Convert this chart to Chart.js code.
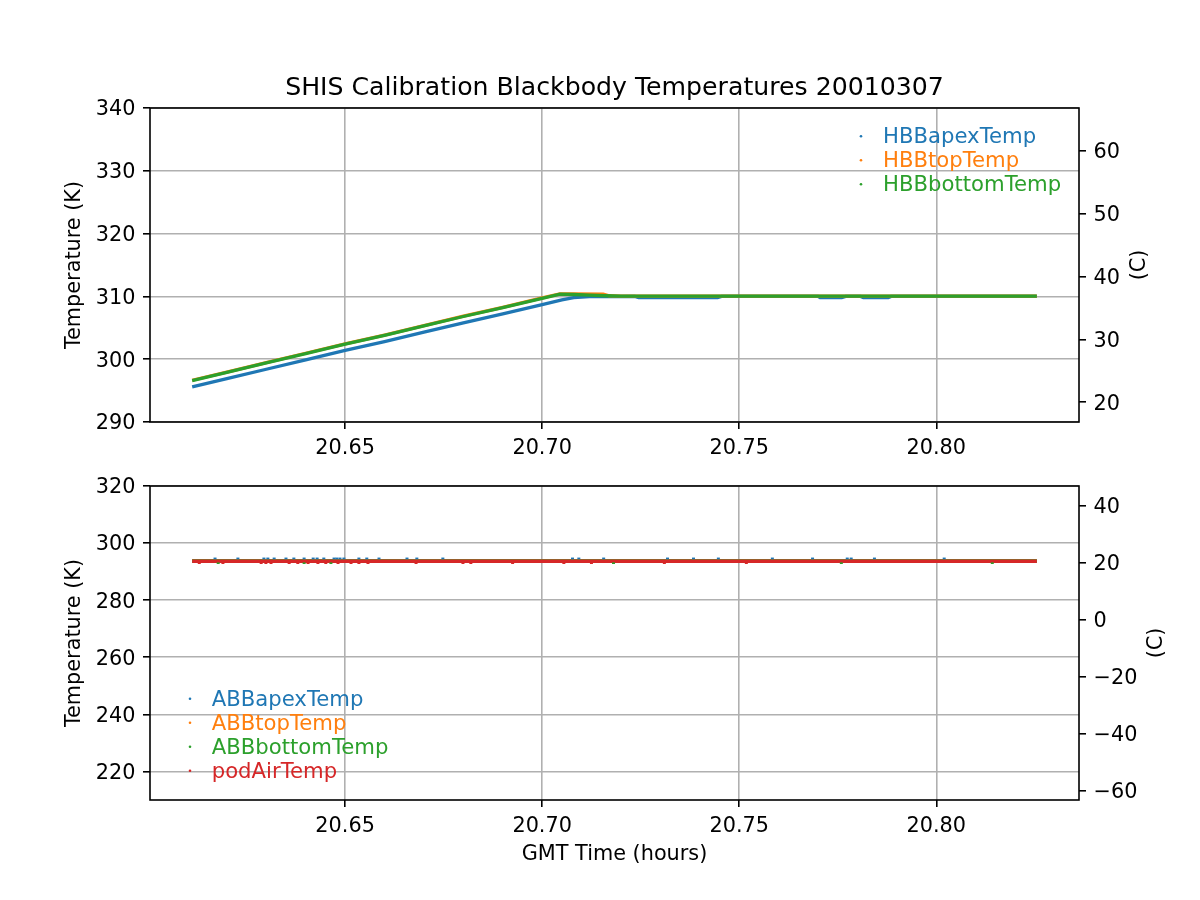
<!DOCTYPE html>
<html><head><meta charset="utf-8">
<script src="https://cdn.jsdelivr.net/npm/chart.js@4"></script>
<style>
html,body{margin:0;padding:0;background:#fff;}
#wrap{position:relative;width:1200px;height:900px;background:#fff;}
canvas{position:absolute;left:0;top:0;}
</style></head><body>
<div id="wrap"><canvas id="c1" width="1200" height="900"></canvas><canvas id="c2" width="1200" height="900"></canvas></div>
<script>
// ---------------- data ----------------
const chartTitle = 'SHIS Calibration Blackbody Temperatures 20010307';
const xTicks = [20.65, 20.70, 20.75, 20.80];
const topKTicks = [290, 300, 310, 320, 330, 340];
const topCTicks = [20, 30, 40, 50, 60];
const botKTicks = [220, 240, 260, 280, 300, 320];
const botCTicks = [-60, -40, -20, 0, 20, 40];

// top panel: hot blackbody
const hbbApexTime = [20.6112, 20.62, 20.63, 20.64, 20.65, 20.66, 20.67, 20.68, 20.69, 20.70, 20.705, 20.708, 20.712, 20.7235, 20.7245, 20.7445, 20.7455, 20.770, 20.7705, 20.776, 20.777, 20.7808, 20.7815, 20.7878, 20.7885, 20.8255];
const hbbApexTemp = [295.6, 296.9, 298.4, 299.9, 301.4, 302.8, 304.3, 305.8, 307.2, 308.7, 309.45, 309.8, 309.95, 310.0, 309.8, 309.8, 310.0, 310.0, 309.8, 309.8, 310.0, 310.0, 309.8, 309.8, 310.0, 310.0];
const hbbTopTime = [20.6112, 20.62, 20.63, 20.64, 20.65, 20.66, 20.67, 20.68, 20.69, 20.70, 20.7045, 20.708, 20.7155, 20.717, 20.72, 20.76, 20.80, 20.8255];
const hbbTopTemp = [296.65, 297.95, 299.45, 300.95, 302.45, 303.85, 305.35, 306.85, 308.25, 309.75, 310.4, 310.4, 310.35, 310.1, 310.05, 310.05, 310.05, 310.05];
const hbbBottomTime = [20.6112, 20.62, 20.63, 20.64, 20.65, 20.66, 20.67, 20.68, 20.69, 20.70, 20.7045, 20.708, 20.712, 20.716, 20.72, 20.74, 20.76, 20.78, 20.80, 20.8255];
const hbbBottomTemp = [296.6, 297.9, 299.4, 300.9, 302.4, 303.8, 305.3, 306.8, 308.2, 309.7, 310.35, 310.3, 310.2, 310.1, 310.05, 310.05, 310.05, 310.05, 310.05, 310.05];

// bottom panel: ambient blackbody + pod air
const abbTime = [20.6112, 20.65, 20.70, 20.75, 20.80, 20.8255];
const abbApexTemp = [293.7, 293.7, 293.7, 293.7, 293.7, 293.7];
const abbTopTemp = [293.75, 293.75, 293.75, 293.75, 293.75, 293.75];
const abbBottomTemp = [293.7, 293.7, 293.7, 293.7, 293.7, 293.7];
const podAirTemp = [293.65, 293.65, 293.65, 293.65, 293.65, 293.65];
const abbApexSpikeTime = [20.6170, 20.6228, 20.6294, 20.6304, 20.6320, 20.6350, 20.6370, 20.6396, 20.6419, 20.6429, 20.6446, 20.6472, 20.6479, 20.6487, 20.6497, 20.6535, 20.6555, 20.6586, 20.6657, 20.6682, 20.6748, 20.7077, 20.7093, 20.7156, 20.7318, 20.7384, 20.7447, 20.7584, 20.7686, 20.7774, 20.7784, 20.7843, 20.8020];
const abbApexSpikeTemp = abbApexSpikeTime.map(() => 294.65);
const podAirDipTime = [20.6130, 20.6190, 20.6287, 20.6299, 20.6312, 20.6358, 20.6380, 20.6406, 20.6431, 20.6451, 20.6482, 20.6515, 20.6535, 20.6558, 20.6680, 20.6799, 20.6819, 20.6925, 20.7055, 20.7125, 20.7310, 20.7518];
const podAirDipTemp = podAirDipTime.map(() => 292.95);
const abbBottomDipTime = [20.6178, 20.6396, 20.6464, 20.7181, 20.7759, 20.8142];
const abbBottomDipTemp = abbBottomDipTime.map(() => 292.95);

// ---------------- styling ----------------
const C0 = '#1f77b4', C1 = '#ff7f0e', C2 = '#2ca02c', C3 = '#d62728';
const FONT = 'DejaVu Sans';
const FS = 20.8;
const LEG_FS = 21.2;
const TITLE_FS = 25.2;
const gridColor = '#b0b0b0';
const xMin = 20.6005, xMax = 20.8362;

Chart.defaults.font.family = FONT;
Chart.defaults.font.size = FS;
Chart.defaults.color = '#000';

function pts(t, v) { return v.map((y, i) => ({x: t[i], y})); }
function fmtC(v) { return v < 0 ? '\u2212' + Math.abs(v) : String(v); }

function lineDs(label, t, v, color, order, w) {
  return {label, data: pts(t, v), borderColor: color, backgroundColor: color, borderWidth: w,
    pointRadius: 0, fill: false, tension: 0, order};
}
function dotDs(label, t, v, color, order) {
  return {label, data: pts(t, v), borderColor: color, backgroundColor: color, showLine: false,
    pointRadius: 1.5, pointStyle: 'line', borderWidth: 1.6, order, inLegend: false};
}

const mplDecor = {
  id: 'mplDecor',
  afterDraw(chart, args, o) {
    const ctx = chart.ctx, a = chart.chartArea;
    ctx.save();
    ctx.strokeStyle = '#000'; ctx.lineWidth = 1.6;
    ctx.strokeRect(a.left, a.top, a.right - a.left, a.bottom - a.top);
    ctx.fillStyle = '#000';
    if (o.title) {
      ctx.font = TITLE_FS + 'px "' + FONT + '"';
      ctx.textAlign = 'center'; ctx.textBaseline = 'alphabetic';
      ctx.fillText(o.title, (a.left + a.right) / 2, a.top - o.titleGap);
    }
    if (o.rightLabel) {
      ctx.save();
      ctx.translate(o.rightLabelX, (a.top + a.bottom) / 2);
      ctx.rotate(-Math.PI / 2);
      ctx.font = FS + 'px "' + FONT + '"';
      ctx.textAlign = 'center'; ctx.textBaseline = 'middle';
      ctx.fillText(o.rightLabel, 0, 0);
      ctx.restore();
    }
    if (o.legendSide) {
      ctx.font = LEG_FS + 'px "' + FONT + '"';
      ctx.textAlign = 'left'; ctx.textBaseline = 'alphabetic';
      const items = chart.data.datasets.filter(d => d.inLegend !== false);
      const tx = o.legendSide === 'right' ? a.right - o.legendTextOff : a.left + o.legendTextOff;
      const mx = o.legendSide === 'right' ? a.right - o.legendMarkOff : a.left + o.legendMarkOff;
      items.forEach((d, i) => {
        const y = a.top + o.legendTop + i * o.legendDy;
        ctx.fillStyle = d.borderColor;
        ctx.beginPath(); ctx.arc(mx, y - 7, 1.3, 0, 2 * Math.PI); ctx.fill();
        ctx.fillText(d.label, tx, y);
      });
    }
    ctx.restore();
  }
};

function scales(o) {
  return {
    x: {
      type: 'linear', position: 'bottom', min: xMin, max: xMax,
      afterBuildTicks: s => { s.ticks = xTicks.map(v => ({value: v})); },
      afterFit: s => { s.height = o.xHeight; },
      grid: {color: gridColor, lineWidth: 1.6, tickColor: '#000', tickLength: 7, tickWidth: 1.6},
      border: {display: false},
      ticks: {padding: 6.8, autoSkip: false, maxRotation: 0, callback: v => v.toFixed(2)},
      title: o.xTitle ? {display: true, text: o.xTitle, padding: {top: 0, bottom: 33}} : {display: false}
    },
    y: {
      type: 'linear', position: 'left', min: o.yMin, max: o.yMax,
      afterBuildTicks: s => { s.ticks = o.kTicks.map(v => ({value: v})); },
      afterFit: s => { s.width = 150; },
      grid: {color: gridColor, lineWidth: 1.6, tickColor: '#000', tickLength: 7, tickWidth: 1.6},
      border: {display: false},
      ticks: {padding: 7.5, autoSkip: false, labelOffset: 2, callback: v => String(v)},
      title: {display: true, text: 'Temperature (K)', padding: {top: 62.5, bottom: 0}}
    },
    y2: {
      type: 'linear', position: 'right', min: o.yMin - 273.15, max: o.yMax - 273.15,
      afterBuildTicks: s => { s.ticks = o.cTicks.map(v => ({value: v})); },
      afterFit: s => { s.width = 121; },
      grid: {drawOnChartArea: false, tickColor: '#000', tickLength: 7, tickWidth: 1.6, lineWidth: 1.6},
      border: {display: false},
      ticks: {padding: 7.5, autoSkip: false, labelOffset: 2, callback: v => fmtC(v)}
    }
  };
}

new Chart(document.getElementById('c1'), {
  type: 'line',
  data: {datasets: [
    lineDs('HBBapexTemp', hbbApexTime, hbbApexTemp, C0, 3, 3.3),
    lineDs('HBBtopTemp', hbbTopTime, hbbTopTemp, C1, 2, 3.3),
    lineDs('HBBbottomTemp', hbbBottomTime, hbbBottomTemp, C2, 1, 3.3)
  ]},
  options: {
    responsive: false, devicePixelRatio: 1, animation: false,
    layout: {padding: {top: 108, bottom: 438, left: 0, right: 0}},
    scales: scales({xHeight: 40, yMin: 290, yMax: 340, kTicks: topKTicks, cTicks: topCTicks}),
    plugins: {
      legend: {display: false}, tooltip: {enabled: false},
      mplDecor: {title: chartTitle, titleGap: 13, rightLabel: '(C)', rightLabelX: 1140,
        legendSide: 'right', legendTextOff: 196, legendMarkOff: 218, legendTop: 35.3, legendDy: 24}
    }
  },
  plugins: [mplDecor]
});

new Chart(document.getElementById('c2'), {
  type: 'line',
  data: {datasets: [
    lineDs('ABBapexTemp', abbTime, abbApexTemp, C0, 4, 3.5),
    lineDs('ABBtopTemp', abbTime, abbTopTemp, C1, 3, 3.5),
    lineDs('ABBbottomTemp', abbTime, abbBottomTemp, C2, 2, 3.5),
    lineDs('podAirTemp', abbTime, podAirTemp, C3, 1, 3.5),
    dotDs('ABBapexTemp', abbApexSpikeTime, abbApexSpikeTemp, C0, 0),
    dotDs('ABBbottomTemp', abbBottomDipTime, abbBottomDipTemp, C2, 0),
    dotDs('podAirTemp', podAirDipTime, podAirDipTemp, C3, 0)
  ]},
  options: {
    responsive: false, devicePixelRatio: 1, animation: false,
    layout: {padding: {top: 486, bottom: 0, left: 0, right: 0}},
    scales: scales({xHeight: 100, xTitle: 'GMT Time (hours)', yMin: 210, yMax: 320, kTicks: botKTicks, cTicks: botCTicks}),
    plugins: {
      legend: {display: false}, tooltip: {enabled: false},
      mplDecor: {rightLabel: '(C)', rightLabelX: 1157,
        legendSide: 'left', legendTextOff: 61.7, legendMarkOff: 40, legendTop: 219.7, legendDy: 24}
    }
  },
  plugins: [mplDecor]
});
</script>
</body></html>
